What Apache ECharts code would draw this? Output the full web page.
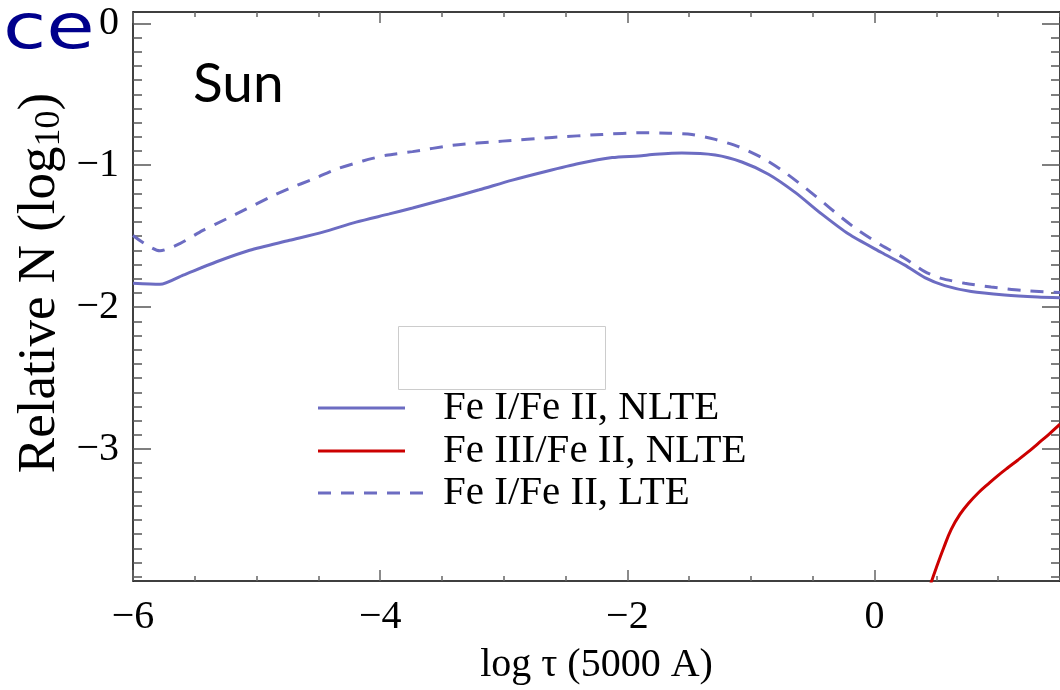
<!DOCTYPE html>
<html>
<head>
<meta charset="utf-8">
<title>Sun: Fe ionization balance</title>
<script src="https://cdn.jsdelivr.net/npm/echarts@6/dist/echarts.min.js"></script>
<style>
  html, body { margin: 0; padding: 0; background: #fff; }
  #chart { width: 1060px; height: 690px; }
</style>
</head>
<body>
<div id="chart"></div>
<script>
// log tau (5000 A) on x, relative population (log10) on y
const seriesNames = ['Fe I/Fe II, NLTE', 'Fe III/Fe II, NLTE', 'Fe I/Fe II, LTE'];

const feINlte = [
  [-6.0, -1.832], [-5.782, -1.839], [-5.594, -1.774], [-5.324, -1.680], [-5.056, -1.599],
  [-4.733, -1.529], [-4.464, -1.471], [-4.195, -1.401], [-3.926, -1.343], [-3.738, -1.301],
  [-3.468, -1.238], [-3.199, -1.173], [-2.931, -1.105], [-2.661, -1.044], [-2.392, -0.988],
  [-2.123, -0.946], [-1.908, -0.934], [-1.773, -0.923], [-1.559, -0.914], [-1.289, -0.928],
  [-1.074, -0.977], [-0.859, -1.063], [-0.643, -1.191], [-0.429, -1.343], [-0.213, -1.483],
  [0.056, -1.615], [0.245, -1.704], [0.406, -1.792], [0.567, -1.848], [0.782, -1.890],
  [1.052, -1.914], [1.320, -1.928], [1.5, -1.933]
];

const feIIINlte = [
  [0.44, -3.985], [0.500, -3.835], [0.560, -3.694], [0.620, -3.566], [0.690, -3.461],
  [0.760, -3.382], [0.840, -3.308], [0.920, -3.245], [1.000, -3.185], [1.080, -3.130],
  [1.160, -3.077], [1.240, -3.022], [1.320, -2.963], [1.410, -2.896], [1.5, -2.825]
];

const feILte = [
  [-6.0, -1.495], [-5.782, -1.603], [-5.621, -1.552], [-5.435, -1.459], [-5.244, -1.378],
  [-5.082, -1.308], [-4.894, -1.226], [-4.733, -1.163], [-4.545, -1.098], [-4.356, -1.028],
  [-4.141, -0.970], [-3.952, -0.930], [-3.738, -0.904], [-3.415, -0.860], [-3.011, -0.830],
  [-2.608, -0.804], [-2.204, -0.783], [-1.881, -0.771], [-1.666, -0.774], [-1.478, -0.783],
  [-1.289, -0.818], [-1.101, -0.869], [-0.913, -0.946], [-0.751, -1.035], [-0.590, -1.140],
  [-0.442, -1.243], [-0.294, -1.350], [-0.132, -1.459], [0.056, -1.564], [0.245, -1.657],
  [0.406, -1.750], [0.540, -1.797], [0.729, -1.832], [0.943, -1.858], [1.186, -1.881],
  [1.5, -1.897]
];

// axis ticks and labels
const xMajorTicks = [-6, -4, -2, 0];
const yMajorTicks = [0, -1, -2, -3];
const xMinorStep = 0.5;
const yMinorStep = 0.1;

const xRange = [-6, 1.5];
const yRange = [-3.93, 0.08];

const xMinorTicks = [];
for (let v = xRange[0]; v <= xRange[1] + 1e-9; v += xMinorStep) xMinorTicks.push(+v.toFixed(2));
const yMinorTicks = [];
for (let v = -3.9; v <= 0 + 1e-9; v += yMinorStep) yMinorTicks.push(+v.toFixed(2));

const minus = v => (v < 0 ? '\u2212' + Math.abs(v) : String(v));

const blue = '#6c6cc2';
const red = '#cc0000';
const serif = '"Liberation Serif", "Times New Roman", serif';

function axisBase(extra) {
  return Object.assign({
    type: 'value',
    splitLine: { show: false },
    axisLine: { show: false, onZero: false },
    axisLabel: { show: false },
    axisTick: { show: false }
  }, extra);
}

function xAxisPair(position, withLabels) {
  return [
    axisBase({
      position, min: xRange[0], max: xRange[1],
      axisLine: { show: true, onZero: false, lineStyle: { color: '#000', width: 1.5 } },
      axisTick: { show: true, inside: true, length: 5, customValues: xMinorTicks,
                  lineStyle: { color: '#666', width: 1.5 } },
      axisLabel: withLabels ? {
        show: true, customValues: xMajorTicks, formatter: minus,
        fontFamily: serif, fontSize: 40, color: '#000', margin: 16
      } : { show: false },
      name: withLabels ? 'log \u03c4 (5000 A)' : '',
      nameLocation: 'middle', nameGap: 64,
      nameTextStyle: { fontFamily: serif, fontSize: 40, color: '#000' }
    }),
    axisBase({
      position, min: xRange[0], max: xRange[1],
      axisTick: { show: true, inside: true, length: 11, customValues: xMajorTicks,
                  lineStyle: { color: '#666', width: 1.5 } }
    })
  ];
}

function yAxisPair(position, withLabels) {
  return [
    axisBase({
      position, min: yRange[0], max: yRange[1],
      axisLine: { show: true, onZero: false, lineStyle: { color: '#000', width: 1.5 } },
      axisTick: { show: true, inside: true, length: 9, customValues: yMinorTicks,
                  lineStyle: { color: '#555', width: 1.5 } },
      axisLabel: withLabels ? {
        show: true, customValues: yMajorTicks, formatter: minus,
        fontFamily: serif, fontSize: 40, color: '#000', margin: 14
      } : { show: false }
    }),
    axisBase({
      position, min: yRange[0], max: yRange[1],
      axisTick: { show: true, inside: true, length: 18, customValues: yMajorTicks,
                  lineStyle: { color: '#555', width: 1.5 } }
    })
  ];
}

const chart = echarts.init(document.getElementById('chart'), null, { renderer: 'canvas' });

const lineSeries = (name, data, color, type, smooth) => ({
  name, type: 'line', data, showSymbol: false, symbol: 'none', smooth,
  clip: true, xAxisIndex: 0, yAxisIndex: 0, z: 5,
  lineStyle: { color, width: 3, type }
});

// legend block
const legendX0 = 318, legendTextX = 443;
const legendRows = [408, 451, 493];
const legendStyles = [
  { color: blue, dash: null, x1: 405 },
  { color: red, dash: null, x1: 405 },
  { color: blue, dash: [13, 10], x1: 428 }
];
const graphics = [
  { type: 'text', left: 3, top: 1,
    style: { text: 'ce', fill: '#00008c', font: '62px "DejaVu Sans", sans-serif' },
    scaleX: 1.27 },
  { type: 'text', left: 193, top: 57,
    style: { text: 'Sun', fill: '#000', font: '55px Lato, "DejaVu Sans", sans-serif' } },
  { type: 'text', x: 40, y: 283, rotation: Math.PI / 2,
    style: {
      text: 'Relative N (log{sub|10})', fill: '#000', align: 'center', verticalAlign: 'middle',
      font: '53px ' + serif,
      rich: { sub: { fontFamily: serif, fontSize: 36, verticalAlign: 'bottom', padding: [20, 0, 0, 0] } }
    } },
  { type: 'rect', shape: { x: 398.5, y: 326.5, width: 207, height: 63 },
    style: { fill: '#fff', stroke: '#cccccc', lineWidth: 1 } }
];
legendRows.forEach((y, i) => {
  const s = legendStyles[i];
  graphics.push({ type: 'line', shape: { x1: legendX0, y1: y, x2: s.x1, y2: y },
    style: { stroke: s.color, lineWidth: 3, lineDash: s.dash } });
  graphics.push({ type: 'text', x: legendTextX, y: y,
    style: { text: seriesNames[i], fill: '#000', font: '41px ' + serif, verticalAlign: 'middle' } });
});

chart.setOption({
  animation: false,
  backgroundColor: '#fff',
  grid: { left: 133, top: 12, width: 929, height: 573, containLabel: false },
  xAxis: [...xAxisPair('bottom', true), ...xAxisPair('top', false)],
  yAxis: [...yAxisPair('left', true), ...yAxisPair('right', false)],
  series: [
    lineSeries(seriesNames[0], feINlte, blue, 'solid', 0.25),
    lineSeries(seriesNames[1], feIIINlte, red, 'solid', 0.4),
    lineSeries(seriesNames[2], feILte, blue, [13, 10], 0.25)
  ],
  graphic: graphics
});
</script>
</body>
</html>
